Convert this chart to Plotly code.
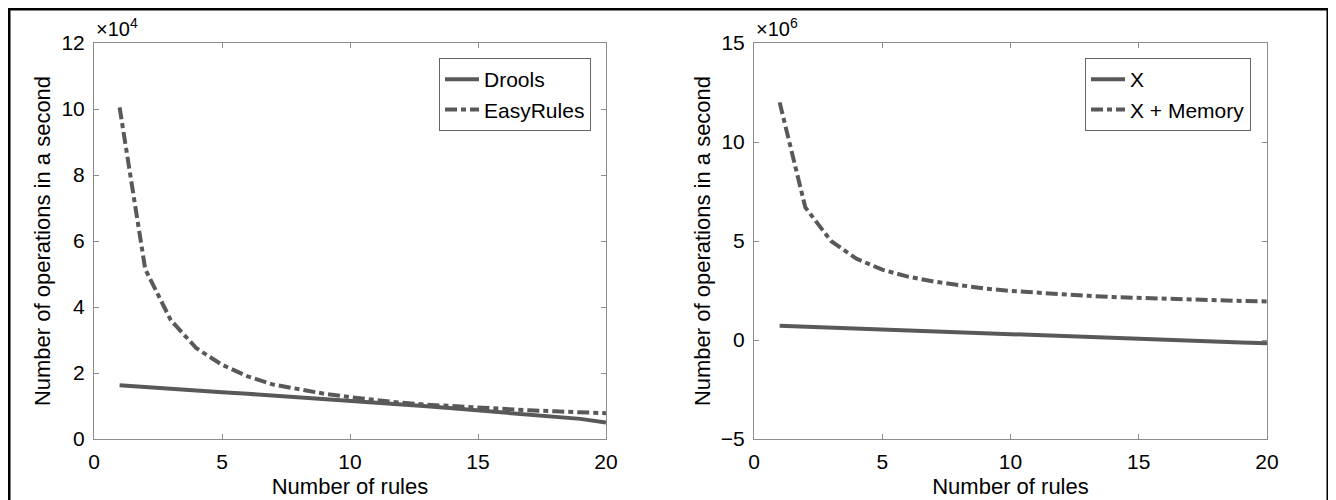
import plotly.graph_objects as go
from plotly.subplots import make_subplots

rules = list(range(1, 21))

# left panel (x 1e4)
drools = [1.63, 1.57, 1.52, 1.47, 1.42, 1.37, 1.32, 1.27, 1.22, 1.17,
          1.11, 1.05, 0.99, 0.93, 0.87, 0.81, 0.75, 0.68, 0.61, 0.50]
easyrules = [10.05, 5.15, 3.6, 2.75, 2.25, 1.9, 1.65, 1.5, 1.37, 1.27,
             1.18, 1.1, 1.04, 0.99, 0.95, 0.91, 0.87, 0.84, 0.81, 0.78]

# right panel (x 1e6)
x_plain = [0.72, 0.67, 0.62, 0.57, 0.52, 0.47, 0.42, 0.37, 0.32, 0.27,
           0.22, 0.17, 0.12, 0.08, 0.03, -0.02, -0.06, -0.10, -0.13, -0.17]
x_memory = [12.0, 6.7, 5.0, 4.1, 3.55, 3.2, 2.95, 2.75, 2.6, 2.48,
            2.38, 2.3, 2.23, 2.17, 2.12, 2.08, 2.04, 2.0, 1.97, 1.95]

# page body has an 8px margin, so the figure sits 8px in from the window corner
OFF = 8
W, H = 1336 - OFF, 500 - OFF
FONT = "Liberation Sans"
LINE_COL = "#595959"
AX_COL = "#8c8c8c"
DASH = "12px,4px,5px,4px"


def px(x):
    return (x - OFF) / W


def py(y):
    return 1 - (y - OFF) / H


fig = make_subplots(rows=1, cols=2)

fig.add_trace(go.Scatter(x=rules, y=drools, mode="lines", name="Drools",
                         line=dict(color=LINE_COL, width=4), legend="legend"), 1, 1)
fig.add_trace(go.Scatter(x=rules, y=easyrules, mode="lines", name="EasyRules",
                         line=dict(color=LINE_COL, width=4, dash=DASH), legend="legend"), 1, 1)
fig.add_trace(go.Scatter(x=rules, y=x_plain, mode="lines", name="X",
                         line=dict(color=LINE_COL, width=4), legend="legend2"), 1, 2)
fig.add_trace(go.Scatter(x=rules, y=x_memory, mode="lines", name="X + Memory",
                         line=dict(color=LINE_COL, width=4, dash=DASH), legend="legend2"), 1, 2)

ax_common = dict(showline=True, linecolor=AX_COL, linewidth=1, mirror="ticks",
                 ticks="inside", ticklen=5, tickcolor=AX_COL, showgrid=False,
                 zeroline=False, tickfont=dict(size=21, color="black"),
                 title_font=dict(size=22, color="black"), automargin=False)

fig.update_xaxes(**ax_common, range=[0, 20], tickvals=[0, 5, 10, 15, 20],
                 title_text="Number of rules", title_standoff=6, ticklabelstandoff=4)
fig.update_xaxes(domain=[px(94), px(606)], row=1, col=1)
fig.update_xaxes(domain=[px(754), px(1267)], row=1, col=2)

fig.update_yaxes(**ax_common, title_text="Number of operations in a second",
                 title_standoff=4, ticklabelstandoff=4)
fig.update_yaxes(domain=[py(439), py(43)])
fig.update_yaxes(range=[0, 12], tickvals=[0, 2, 4, 6, 8, 10, 12], row=1, col=1)
fig.update_yaxes(range=[-5, 15], tickvals=[-5, 0, 5, 10, 15], row=1, col=2)

fig.add_annotation(x=px(94), y=py(42), xref="paper", yref="paper", xanchor="left",
                   yanchor="bottom", text="×10<sup>4</sup>", showarrow=False,
                   font=dict(size=20, color="black"))
fig.add_annotation(x=px(754), y=py(42), xref="paper", yref="paper", xanchor="left",
                   yanchor="bottom", text="×10<sup>6</sup>", showarrow=False,
                   font=dict(size=20, color="black"))

leg = dict(bordercolor="#666666", borderwidth=1, bgcolor="white",
           font=dict(size=21, color="black"), xanchor="right", yanchor="top",
           y=py(58), tracegroupgap=0, itemwidth=34)
fig.update_layout(legend=dict(**leg, x=px(591)), legend2=dict(**leg, x=px(1251)))

# outer black frame
fig.add_shape(type="rect", xref="paper", yref="paper", x0=px(9), x1=px(1328),
              y0=-0.02, y1=py(9), line=dict(color="black", width=3))

fig.update_layout(width=W, height=H, margin=dict(l=0, r=0, t=0, b=0),
                  paper_bgcolor="white", plot_bgcolor="white",
                  font=dict(family=FONT, color="black"), showlegend=True)

fig.write_html("out.html")
